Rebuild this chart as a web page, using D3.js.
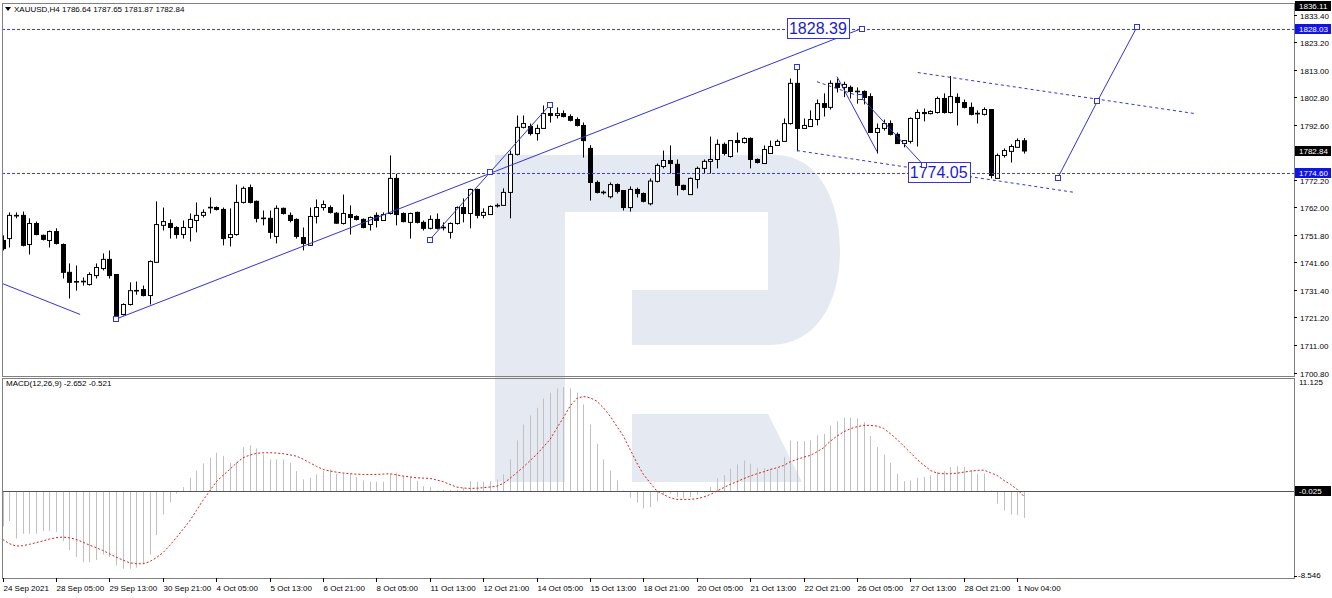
<!DOCTYPE html>
<html><head><meta charset="utf-8">
<script src="https://cdn.jsdelivr.net/npm/d3@7"></script>
<style>
body{margin:0;background:#fff}
svg{display:block}
text{font-family:"Liberation Sans",Arial,sans-serif;font-size:8px}
</style>
</head><body>
<svg id="c" width="1332" height="598"></svg>
<script>
// ---------------- DATA ----------------
const opens=[1749.7,1750.4,1758.8,1759.0,1748.2,1756.0,1751.6,1749.7,1753.0,1748.2,
1737.9,1734.4,1734.6,1733.4,1736.7,1739.3,1742.7,1737.1,1722.3,1726.0,
1731.2,1731.5,1729.3,1741.6,1755.3,1756.0,1754.5,1751.9,1754.5,1757.1,
1759.0,1761.9,1761.9,1761.2,1750.8,1751.9,1763.8,1769.3,1764.2,1758.0,
1757.9,1751.2,1761.6,1759.0,1757.5,1750.8,1747.9,1758.6,1761.9,1761.9,
1759.8,1756.0,1759.3,1758.6,1757.5,1755.6,1759.0,1757.1,1759.7,1772.7,
1759.7,1756.4,1760.1,1756.4,1754.2,1757.5,1754.6,1752.7,1756.0,1761.9,
1759.7,1768.6,1759.0,1759.3,1762.6,1762.7,1767.5,1781.6,1791.6,1791.9,
1789.3,1791.2,1796.7,1796.0,1796.7,1795.6,1794.5,1792.3,1783.8,1771.2,
1767.6,1765.9,1770.4,1768.2,1761.9,1768.6,1767.1,1763.3,1771.6,1777.1,
1779.3,1777.9,1770.1,1766.7,1772.3,1776.4,1779.0,1779.7,1785.3,1780.8,
1786.7,1786.0,1787.5,1779.7,1778.2,1781.9,1784.9,1786.4,1793.0,1807.9,
1791.2,1791.9,1794.5,1800.4,1799.0,1807.9,1806.4,1806.4,1805.0,1804.9,
1803.0,1789.7,1791.2,1793.0,1789.0,1785.6,1786.4,1794.9,1797.1,1796.7,
1797.1,1802.3,1797.1,1802.7,1800.8,1799.0,1796.8,1796.4,1798.2,1772.7,
1781.2,1782.7,1784.2,1786.64];
const highs=[1751.6,1760.1,1760.1,1760.4,1757.9,1756.7,1751.9,1753.4,1754.2,1748.6,
1741.2,1740.4,1736.0,1737.9,1741.2,1744.9,1746.0,1737.1,1726.4,1734.2,
1734.5,1733.0,1742.3,1764.2,1761.9,1757.5,1755.0,1757.1,1759.7,1763.8,
1761.2,1765.6,1762.3,1761.9,1761.6,1770.4,1769.7,1770.4,1764.5,1760.8,
1760.8,1762.7,1761.9,1760.1,1757.9,1754.5,1761.9,1764.9,1764.5,1762.7,
1760.2,1766.7,1762.7,1759.0,1757.9,1758.6,1760.1,1760.1,1781.2,1774.4,
1760.1,1760.0,1760.4,1757.1,1759.0,1759.7,1756.4,1756.4,1762.3,1765.3,
1768.9,1768.9,1761.6,1762.7,1763.4,1769.0,1783.0,1796.0,1796.0,1793.0,
1792.6,1799.7,1799.7,1799.0,1797.9,1796.4,1795.3,1793.4,1785.0,1771.9,
1768.2,1771.2,1770.8,1768.2,1769.7,1769.3,1767.5,1772.7,1778.2,1783.0,
1784.9,1779.7,1770.4,1773.0,1777.1,1779.7,1788.2,1787.1,1786.0,1786.7,
1789.7,1787.9,1787.9,1780.1,1784.9,1786.7,1787.1,1794.9,1809.7,1813.8,
1794.9,1797.9,1801.9,1804.2,1809.0,1809.7,1808.5,1807.1,1806.4,1805.3,
1804.2,1793.0,1794.5,1794.2,1789.7,1786.7,1795.3,1798.2,1798.6,1797.9,
1803.0,1804.2,1810.6,1804.2,1801.9,1800.8,1797.9,1799.0,1798.2,1781.9,
1783.8,1785.3,1787.5,1787.65];
const lows=[1746.0,1747.1,1757.9,1747.5,1744.5,1751.6,1749.7,1747.1,1748.2,1735.6,
1728.2,1731.1,1733.0,1733.0,1735.6,1738.6,1735.6,1720.8,1721.9,1725.6,
1729.6,1729.0,1726.0,1741.6,1753.4,1750.4,1750.4,1750.4,1749.3,1752.7,
1758.2,1759.7,1760.8,1747.9,1747.5,1751.5,1763.4,1763.4,1756.4,1755.3,
1750.4,1748.6,1759.3,1756.4,1750.4,1746.0,1747.9,1756.0,1760.8,1759.7,
1755.9,1755.6,1751.9,1757.1,1754.2,1753.4,1754.5,1757.1,1759.3,1755.3,
1756.4,1750.4,1756.0,1753.4,1753.8,1753.8,1753.4,1750.4,1755.6,1756.4,
1754.2,1757.9,1757.9,1759.3,1761.9,1762.7,1757.9,1781.2,1791.2,1788.6,
1786.7,1791.2,1793.4,1794.9,1795.3,1793.8,1791.9,1780.4,1764.5,1767.1,
1766.7,1765.3,1767.1,1760.8,1760.4,1765.6,1763.8,1762.7,1771.2,1776.4,
1774.5,1766.4,1768.2,1766.7,1769.0,1774.5,1774.5,1776.4,1781.2,1780.4,
1782.3,1785.6,1776.4,1778.2,1778.2,1781.9,1784.9,1786.4,1792.6,1782.7,
1791.2,1791.9,1792.3,1795.6,1798.2,1804.5,1802.8,1802.3,1800.4,1800.1,
1789.7,1781.9,1790.4,1788.6,1785.6,1784.2,1785.6,1784.5,1793.8,1796.4,
1796.7,1796.7,1796.7,1792.3,1798.6,1796.0,1793.0,1796.0,1772.7,1772.7,
1780.4,1778.6,1784.2,1781.87];
const closes=[1746.7,1759.0,1759.0,1747.9,1756.0,1751.9,1750.1,1753.0,1748.6,1737.9,
1734.2,1734.5,1734.5,1737.1,1739.7,1742.7,1736.7,1721.6,1726.0,1731.1,
1731.0,1729.3,1741.9,1755.6,1756.7,1754.5,1751.9,1754.5,1757.5,1759.0,
1760.1,1762.0,1761.2,1750.4,1751.9,1763.8,1769.0,1763.8,1757.9,1757.8,
1752.7,1761.6,1759.7,1757.1,1751.2,1748.6,1758.6,1761.9,1763.0,1760.1,
1756.1,1759.7,1758.2,1757.5,1754.5,1758.2,1757.1,1759.3,1772.7,1759.3,
1756.7,1759.7,1756.4,1754.2,1757.5,1754.2,1754.5,1756.0,1761.9,1759.7,
1768.6,1759.0,1760.1,1762.3,1762.7,1767.5,1781.6,1791.6,1793.0,1789.3,
1791.2,1796.7,1796.0,1796.7,1795.6,1794.2,1792.3,1786.7,1771.2,1767.5,
1767.4,1770.4,1767.9,1761.9,1768.6,1767.1,1764.2,1771.7,1777.5,1779.3,
1778.2,1770.1,1768.6,1772.7,1776.4,1779.0,1779.7,1785.3,1781.9,1786.7,
1786.0,1787.5,1779.7,1778.6,1783.4,1784.5,1786.4,1793.0,1807.9,1791.2,
1792.3,1794.5,1800.4,1799.0,1807.9,1806.4,1807.5,1804.9,1804.8,1802.7,
1789.7,1791.2,1793.0,1789.0,1785.6,1786.7,1794.9,1797.1,1796.7,1797.5,
1802.3,1797.1,1803.0,1800.8,1799.0,1796.4,1796.6,1798.2,1773.8,1781.2,
1783.0,1784.5,1786.7,1782.84];

const macdHist=[-3.5,-2.97,-4.69,-4.22,-4.22,-4.22,-3.96,-3.96,-4.03,-4.95,
-5.84,-6.53,-7.03,-7.03,-6.83,-6.27,-6.53,-7.36,-7.68,-7.68,
-7.58,-7.25,-6.27,-4.35,-2.31,-1.10,-0.27,0.39,1.32,2.04,
2.73,3.29,3.79,3.45,2.80,2.90,4.34,4.51,4.21,3.62,
3.12,3.12,3.12,2.80,1.97,1.15,1.31,1.64,1.97,2.13,
1.71,1.71,1.71,1.38,1.05,0.92,0.92,0.92,1.64,1.81,
1.48,1.38,0.98,0.48,0.39,0.05,0.1,0.1,0.1,0.33,
0.98,0.92,0.92,0.98,1.15,1.64,3.12,5.00,6.58,7.47,
8.23,9.15,9.72,10.14,10.27,10.14,9.72,8.56,6.58,4.68,
3.12,2.04,1.05,0.05,-0.66,-1.15,-1.72,-1.59,-1.00,-0.40,
-0.27,-0.59,-0.72,-0.59,-0.40,-0.17,0.39,1.25,1.57,2.20,
2.63,3.02,2.70,2.30,2.24,2.20,2.20,3.35,5.00,4.93,
4.93,5.00,5.50,5.66,6.49,6.91,7.25,7.25,7.18,6.81,
5.43,4.34,3.62,2.80,1.71,0.98,1.05,1.31,1.38,1.57,
1.91,1.97,2.37,2.47,2.37,2.04,1.71,1.71,0.05,-1.25,
-1.92,-2.31,-2.38,-2.652];
const macdSignal=[-4.78,-5.2,-5.44,-5.4,-5.27,-5.1,-4.94,-4.75,-4.61,-4.55,
-4.62,-4.78,-5.05,-5.34,-5.6,-5.87,-6.2,-6.53,-6.82,-7.09,
-7.18,-7.19,-6.99,-6.6,-6.10,-5.4,-4.61,-3.8,-2.97,-1.95,
-0.92,0.0,0.92,1.55,2.13,2.75,3.29,3.55,3.72,3.78,
3.79,3.76,3.69,3.58,3.45,3.15,2.80,2.45,2.13,1.98,
1.87,1.78,1.71,1.67,1.64,1.64,1.64,1.68,1.71,1.6,
1.48,1.4,1.31,1.28,1.25,1.1,0.92,0.65,0.39,0.3,
0.26,0.28,0.33,0.4,0.48,0.75,1.25,1.81,2.37,3.0,
3.62,4.35,5.10,6.2,7.25,8.39,9.15,9.35,9.22,8.89,
8.23,7.41,6.41,5.43,4.11,2.80,1.64,0.82,0.0,-0.34,
-0.66,-0.83,-0.83,-0.83,-0.76,-0.60,-0.34,0.0,0.33,0.66,
0.92,1.22,1.48,1.71,1.91,2.13,2.30,2.53,2.90,3.12,
3.35,3.52,3.88,4.28,4.93,5.43,5.86,6.16,6.36,6.49,
6.49,6.42,6.19,5.66,5.10,4.44,3.79,3.12,2.56,2.04,
1.77,1.71,1.71,1.77,1.87,1.97,2.04,2.07,1.81,1.54,
1.05,0.66,0.16,-0.521];

const timeLabels=["24 Sep 2021","28 Sep 05:00","29 Sep 13:00","30 Sep 21:00","4 Oct 05:00","5 Oct 13:00",
"6 Oct 21:00","8 Oct 05:00","11 Oct 13:00","12 Oct 21:00","14 Oct 05:00","15 Oct 13:00","18 Oct 21:00",
"20 Oct 05:00","21 Oct 13:00","22 Oct 21:00","26 Oct 05:00","27 Oct 13:00","28 Oct 21:00","1 Nov 04:00"];
const timeLabelBars=[0,8,16,24,32,40,48,56,64,72,80,88,96,104,112,120,128,136,144,152];
const priceTicks=[1833.40,1823.20,1813.00,1802.80,1792.60,1772.20,1762.00,1751.80,1741.60,1731.40,1721.20,1711.00,1700.80];
const priceMax=1836.11, lastPrice=1782.84;
const levelPrices=[1828.03,1774.60];
const macdTicks=[11.125,-8.546];
const macdLevel=-0.025;

// annotation anchors: [bar index, price]
const solidLines=[
 [[-0.1,1733.8],[11.6,1722.3]],
 [[17,1720.6],[128.7,1828.2]],
 [[64,1750.0],[73,1774.9]],
 [[73,1774.9],[82,1800.0]],
 [[125,1810.4],[131,1782.6]],
 [[128.5,1803.0],[138,1777.5]],
 [[158.1,1773.0],[164,1801.2]],
 [[164,1801.2],[169.9,1828.6]]
];
const dashedLines=[
 [[119,1783.0],[160.6,1767.5]],
 [[137.1,1811.9],[178.6,1796.7]],
 [[122,1808.5],[128.5,1803.0]]
];
const markers=[[17,1720.6],[64,1750.0],[73,1774.9],[82,1800.0],[119,1813.8],[128.7,1828.2],
 [128.5,1803.0],[138,1777.5],[158.1,1773.0],[164,1801.2],[169.9,1828.6]];
const textBoxes=[{text:"1828.39",i:117.5,p:1828.3},{text:"1774.05",i:135.6,p:1774.9}];

// ---------------- LAYOUT ----------------
const svg=d3.select("#c");
const L=2, R=1294, mainTop=3, mainBot=376, macdTop=378, macdBot=578;
const BLUE="#3333d6";
const x=d3.scaleLinear().domain([0,153]).range([2.7,1023.9]);
const y=d3.scaleLinear().domain([1700.8,1833.4]).range([372.5,14.5]);
const ym=d3.scaleLinear().domain([-8.546,11.125]).range([577.5,378.5]);

const defs=svg.append("defs");
defs.append("clipPath").attr("id","cm").append("rect").attr("x",L).attr("y",mainTop).attr("width",R-L).attr("height",mainBot-mainTop);
defs.append("clipPath").attr("id","cd").append("rect").attr("x",L).attr("y",macdTop).attr("width",R-L).attr("height",macdBot-macdTop);

// watermark logo
const logo=svg.append("g").attr("fill","#e4e9f2");
logo.append("path").attr("d","M495,155 L775,155 C818,155 840,200 840,250 C840,305 815,345 770,345 L632,345 L632,290 L768,290 L768,212 L565,212 L565,482 L495,482 Z");
logo.append("path").attr("d","M632,414 L768,414 L802,482 L632,482 Z").attr("clip-path","url(#cd)");

// MACD panel
const gm=svg.append("g").attr("clip-path","url(#cd)");
gm.selectAll("line.h").data(macdHist).join("line")
 .attr("x1",(d,i)=>Math.round(x(i))+0.5).attr("x2",(d,i)=>Math.round(x(i))+0.5)
 .attr("y1",ym(0)).attr("y2",d=>ym(d)).attr("stroke","#c0c0c0").attr("stroke-width",1);
gm.append("line").attr("x1",L).attr("x2",R).attr("y1",Math.round(ym(0))+0.5).attr("y2",Math.round(ym(0))+0.5)
 .attr("stroke","#555").attr("stroke-width",1);
gm.append("path").datum(macdSignal).attr("fill","none").attr("stroke","#d42020").attr("stroke-width",1)
 .attr("stroke-dasharray","2,2")
 .attr("d",d3.line().x((d,i)=>x(i)).y(d=>ym(d)));

// main candles
const gc=svg.append("g").attr("clip-path","url(#cm)");
const bars=d3.range(opens.length);
gc.selectAll("line.w").data(bars).join("line")
 .attr("x1",i=>Math.round(x(i))+0.5).attr("x2",i=>Math.round(x(i))+0.5)
 .attr("y1",i=>y(highs[i])).attr("y2",i=>y(lows[i])).attr("stroke","#000");
gc.selectAll("rect.b").data(bars).join("rect")
 .attr("x",i=>Math.round(x(i))-1.5).attr("width",4)
 .attr("y",i=>Math.min(y(opens[i]),y(closes[i])))
 .attr("height",i=>Math.max(0.6,Math.abs(y(opens[i])-y(closes[i]))))
 .attr("fill",i=>closes[i]>=opens[i]?"#fff":"#000").attr("stroke","#000").attr("stroke-width",1);

// annotations
const ga=svg.append("g").attr("clip-path","url(#cm)");
levelPrices.forEach(p=>{
 ga.append("line").attr("x1",L).attr("x2",R).attr("y1",Math.round(y(p))+0.5).attr("y2",Math.round(y(p))+0.5)
  .attr("stroke","#3a3aff").attr("stroke-dasharray","3,2");
});
const lp=d=>[x(d[0]),y(d[1])];
solidLines.forEach(s=>ga.append("line").attr("x1",lp(s[0])[0]).attr("y1",lp(s[0])[1]).attr("x2",lp(s[1])[0]).attr("y2",lp(s[1])[1]).attr("stroke",BLUE));
dashedLines.forEach(s=>ga.append("line").attr("x1",lp(s[0])[0]).attr("y1",lp(s[0])[1]).attr("x2",lp(s[1])[0]).attr("y2",lp(s[1])[1]).attr("stroke",BLUE).attr("stroke-dasharray","3,3"));
textBoxes.forEach(t=>{
 const tx=x(t.i), ty=y(t.p);
 const tt=ga.append("text").attr("x",tx+2).attr("y",ty+6).attr("fill","#1a1ad0").style("font-size","16px").text(t.text);
 const bb=tt.node().getBBox();
 ga.insert("rect","text").attr("x",Math.round(tx)+0.5).attr("y",Math.round(ty-10)+0.5).attr("width",Math.round(bb.width+4)).attr("height",20)
  .attr("fill","#fff").attr("stroke",BLUE);
 tt.raise();
});
markers.forEach(m=>ga.append("rect").attr("x",Math.round(x(m[0]))-2.5).attr("y",Math.round(y(m[1]))-2.5).attr("width",5).attr("height",5)
 .attr("fill","#fff").attr("stroke",BLUE));

// frames
const fr=svg.append("g").attr("fill","none").attr("stroke","#808080");
fr.append("rect").attr("x",L+0.5).attr("y",mainTop+0.5).attr("width",R-L).attr("height",mainBot-mainTop);
fr.append("rect").attr("x",L+0.5).attr("y",macdTop+0.5).attr("width",R-L).attr("height",macdBot-macdTop);

// price axis
const ax=svg.append("g");
priceTicks.forEach(p=>{
 const yy=Math.round(y(p))+0.5;
 ax.append("line").attr("x1",R).attr("x2",R+3).attr("y1",yy).attr("y2",yy).attr("stroke","#000");
 ax.append("text").attr("x",R+6).attr("y",yy+3).attr("fill","#000").text(p.toFixed(2));
});
function boxLabel(yy,txt,bg){
 ax.append("rect").attr("x",R+1).attr("y",Math.round(yy)-5).attr("width",36).attr("height",10).attr("fill",bg);
 ax.append("text").attr("x",R+5).attr("y",Math.round(yy)+3).attr("fill","#fff").text(txt);
}
boxLabel(6,priceMax.toFixed(2),"#000");
boxLabel(y(lastPrice),lastPrice.toFixed(2),"#000");
levelPrices.forEach(p=>boxLabel(y(p),p.toFixed(2),"#1414e0"));
// macd axis
ax.append("text").attr("x",R+5).attr("y",385).attr("fill","#000").text(macdTicks[0].toFixed(3));
ax.append("text").attr("x",R+4).attr("y",578).attr("fill","#000").text(macdTicks[1].toFixed(3));
ax.append("line").attr("x1",R).attr("x2",R+3).attr("y1",Math.round(ym(macdTicks[1]))-1.5).attr("y2",Math.round(ym(macdTicks[1]))-1.5).attr("stroke","#000");
boxLabel(ym(macdLevel),macdLevel.toFixed(3),"#000");

// time axis
timeLabelBars.forEach((b,k)=>{
 const xx=Math.round(x(b))+0.5;
 ax.append("line").attr("x1",xx).attr("x2",xx).attr("y1",macdBot).attr("y2",macdBot+4).attr("stroke","#000");
 ax.append("text").attr("x",xx).attr("y",591).attr("fill","#000").text(timeLabels[k]);
});

// headers
ax.append("path").attr("d","M5,7 L11,7 L8,11 Z").attr("fill","#000");
ax.append("text").attr("x",14).attr("y",12).attr("fill","#000").text("XAUUSD,H4  1786.64 1787.65 1781.87 1782.84");
ax.append("text").attr("x",6).attr("y",386).attr("fill","#000").text("MACD(12,26,9) -2.652 -0.521");
</script>
</body></html>
